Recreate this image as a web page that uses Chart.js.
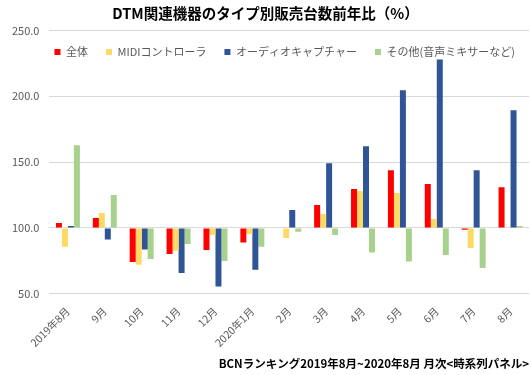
<!DOCTYPE html>
<html>
<head>
<meta charset="utf-8">
<script src="https://cdn.jsdelivr.net/npm/chart.js@4"></script>
<style>
  body { margin: 0; background: #fff; }
  #wrap { width: 531px; height: 375px; }
</style>
</head>
<body>
<div id="wrap"><canvas id="myChart"></canvas></div>
<script>
const months = ['2019年8月', '9月', '10月', '11月', '12月', '2020年1月', '2月', '3月', '4月', '5月', '6月', '7月', '8月'];

// 前年比 (%) 100が基準
const zentai = [103.8, 107.6, 74.2, 80.3, 83.3, 88.9, 100, 117.4, 129.5, 143.9, 133.3, 98.7, 131.0];
const midi = [85.8, 111.4, 72.0, 82.8, 94.7, 95.5, 92.4, 110.6, 128.0, 126.5, 106.8, 84.8, 100];
const audio = [101.5, 91.2, 83.6, 65.9, 55.6, 68.2, 113.6, 149.2, 162.1, 204.5, 228.0, 143.9, 189.4];
const sonota = [162.9, 125.0, 76.5, 87.9, 75.0, 85.8, 97.2, 94.7, 81.3, 74.5, 79.5, 69.7, 101.5];

const yTicks = [50, 100, 150, 200, 250];

const fontName = "'Noto Sans CJK JP', 'Noto Sans', sans-serif";
const ctx = document.getElementById('myChart').getContext('2d');

function makeSet(label, data, color) {
  return {
    label: label,
    data: data,
    base: 100,
    backgroundColor: color,
    borderWidth: 0,
    barPercentage: 1.0,
    categoryPercentage: 0.65
  };
}

// 凡例をグラフ領域の中(250の線の下)に置く
const legendInside = {
  id: 'legendInside',
  beforeInit(chart) {
    const lg = chart.legend;
    const origFit = lg.fit;
    lg.fit = function() {
      this.maxWidth = 2000; // 1行に収める
      origFit.call(this);
      this.height = 0;
    };
  },
  afterLayout(chart) {
    const lg = chart.legend;
    const area = chart.chartArea;
    const pad = lg.options.labels.padding;
    lg.left = area.left + 5 - pad;
    lg.right = chart.width + 100;
    lg.width = lg.right - lg.left;
    lg.top = area.top - 2;
    lg.bottom = lg.top + 30;
    lg.height = 30;
  }
};

const myChart = new Chart(ctx, {
  type: 'bar',
  data: {
    labels: months,
    datasets: [
      makeSet('全体', zentai, '#FF0000'),
      makeSet('MIDIコントローラ', midi, '#FFD966'),
      makeSet('オーディオキャプチャー', audio, '#2F5597'),
      makeSet('その他(音声ミキサーなど)', sonota, '#A9D18E')
    ]
  },
  plugins: [legendInside],
  options: {
    responsive: true,
    maintainAspectRatio: false,
    animation: false,
    layout: { padding: { left: 2, right: 2, top: 0, bottom: 2 } },
    plugins: {
      title: {
        display: true,
        text: 'DTM関連機器のタイプ別販売台数前年比（%）',
        color: '#000',
        font: { family: fontName, size: 14.5, weight: 'bold' },
        padding: { top: 5, bottom: 8 }
      },
      subtitle: {
        display: true,
        position: 'bottom',
        align: 'end',
        text: 'BCNランキング2019年8月~2020年8月 月次<時系列パネル>',
        color: '#000',
        font: { family: fontName, size: 11.5, weight: 'bold' },
        padding: { top: 5, bottom: 2, right: 6 }
      },
      legend: {
        position: 'top',
        align: 'start',
        labels: {
          boxWidth: 6,
          boxHeight: 6,
          padding: 18,
          color: '#595959',
          font: { family: fontName, size: 11 }
        }
      },
      tooltip: { enabled: false }
    },
    scales: {
      x: {
        grid: { display: false },
        border: { display: false },
        ticks: {
          minRotation: 45,
          maxRotation: 45,
          color: '#595959',
          font: { family: fontName, size: 10.5 }
        }
      },
      y: {
        min: 50,
        max: 250,
        afterBuildTicks: function(axis) {
          axis.ticks = yTicks.map(v => ({ value: v }));
        },
        grid: { color: '#D9D9D9', drawTicks: false },
        border: { display: false },
        ticks: {
          padding: 10,
          color: '#595959',
          font: { family: fontName, size: 11 },
          callback: function(v) { return v.toFixed(1); }
        }
      }
    }
  }
});
</script>
</body>
</html>
